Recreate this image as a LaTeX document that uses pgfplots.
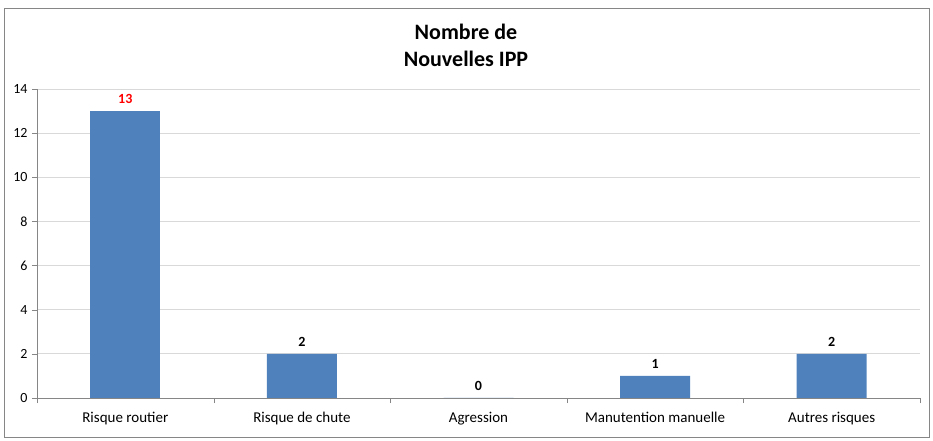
\documentclass[border=0pt]{standalone}
\usepackage{pgfplots}
\pgfplotsset{compat=1.18}
\usepackage{fontspec}
\setmainfont{Carlito}
\definecolor{barblue}{HTML}{4F81BD}
\definecolor{gridgray}{HTML}{D9D9D9}
\definecolor{axisgray}{HTML}{868686}
\begin{document}
\begin{tikzpicture}[x=1pt,y=1pt]
\useasboundingbox (0,0) rectangle (933,441);
\draw[axisgray,line width=0.8pt] (4,4) rectangle (929,433);
\node[font=\fontsize{22}{27}\selectfont\bfseries,align=center] at (466,396) {Nombre de\\Nouvelles IPP};
\begin{axis}[
  at={(37pt,43pt)}, anchor=south west,
  scale only axis, width=883pt, height=309pt,
  ymin=0, ymax=14, ytick={0,2,...,14},
  xmin=-0.5, xmax=4.5,
  xtick={0,1,2,3,4},
  xticklabels={Risque routier,Risque de chute,Agression,Manutention manuelle,Autres risques},
  minor xtick={-0.5,0.5,...,4.5},
  major x tick style={draw=none},
  minor x tick style={axisgray},
  tick align=outside,
  major tick length=5pt, minor tick length=5pt,
  y tick style={axisgray},
  ymajorgrids, grid style={gridgray,line width=0.8pt},
  axis x line*=bottom, axis y line*=left,
  axis line style={axisgray,line width=0.8pt},
  x axis line style={-}, y axis line style={-},
  xticklabel style={font=\fontsize{15}{17}\selectfont, yshift=-6pt},
  yticklabel style={font=\fontsize{14}{16}\selectfont, xshift=-1pt},
  /pgf/number format/assume math mode=true,
  ybar, bar width=70pt, bar shift=0pt,
  nodes near coords,
  nodes near coords style={font=\fontsize{14}{16}\selectfont\bfseries, yshift=4pt},
]
\addplot[fill=barblue, draw=none, nodes near coords style={text=red}] coordinates {(0,13)};
\addplot[fill=barblue, draw=none, nodes near coords style={text=black}] coordinates {(1,2) (2,0) (3,1) (4,2)};
\end{axis}
\end{tikzpicture}
\end{document}
